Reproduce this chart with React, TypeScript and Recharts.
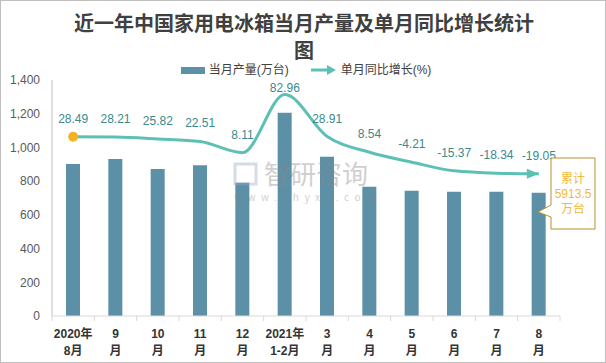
import React from "react";
import {
  ComposedChart,
  Bar,
  Line,
  XAxis,
  YAxis,
  LabelList,
} from "recharts";

const tickTop = ["2020年", "9", "10", "11", "12", "2021年", "3", "4", "5", "6", "7", "8"];
const tickBottom = ["8月", "月", "月", "月", "月", "1-2月", "月", "月", "月", "月", "月", "月"];
const output = [902, 931, 872, 895, 790, 1205, 945, 767, 743, 737, 737, 731];
const growth = [28.49, 28.21, 25.82, 22.51, 8.11, 82.96, 28.91, 8.54, -4.21, -15.37, -18.34, -19.05];
const yTicks = [0, 200, 400, 600, 800, 1000, 1200, 1400];

const data = tickTop.map((t, i) => ({
  name: i,
  output: output[i],
  growth: growth[i],
}));

const BAR = "#5b90a6";
const LINE = "#5cc0b5";
const FONT = "'Liberation Sans', 'Noto Sans CJK SC', sans-serif";

const XTick = (props: any) => {
  const { x, y, payload } = props;
  const i = payload.value;
  const half = 508 / 12 / 2;
  return (
    <g>
      <line x1={x - half} x2={x - half} y1={y - 8} y2={y - 3} stroke="#d9d9d9" />
      {i === tickTop.length - 1 && (
        <line x1={x + half} x2={x + half} y1={y - 8} y2={y - 3} stroke="#d9d9d9" />
      )}
      <text x={x} y={y + 14} textAnchor="middle" fontSize={12} fontWeight="bold" fill="#333" fontFamily={FONT}>
        {tickTop[i]}
      </text>
      <text x={x} y={y + 31} textAnchor="middle" fontSize={12} fontWeight="bold" fill="#333" fontFamily={FONT}>
        {tickBottom[i]}
      </text>
    </g>
  );
};

const LineDot = (props: any) => {
  const { cx, cy, index } = props;
  if (index === 0) {
    return <circle key="d0" cx={cx} cy={cy} r={5} fill="#f5b224" />;
  }
  if (index === growth.length - 1) {
    return (
      <path
        key="dl"
        d={`M${cx - 12},${cy - 5} L${cx},${cy} L${cx - 12},${cy + 5} Z`}
        fill={LINE}
      />
    );
  }
  return <g key={`d${index}`} />;
};

// labels sit above the points but stay inside the plot top
const GrowthLabel = (props: any) => {
  const { x, y, value } = props;
  return (
    <text
      x={x}
      y={Math.max(y - 14, 92)}
      textAnchor="middle"
      fill="#3a8a8e"
      fontSize={12}
      fontFamily={FONT}
    >
      {value}
    </text>
  );
};

export default function App() {
  return (
    <div
      style={{
        position: "relative",
        width: 606,
        height: 363,
        boxSizing: "border-box",
        border: "1px solid #bfbfbf",
        background: "#fff",
        overflow: "hidden",
      }}
    >
      <style>{`body{margin:0}`}</style>
      <div
        style={{
          position: "absolute",
          top: 8,
          left: 0,
          width: 606,
          textAlign: "center",
          fontSize: 20,
          lineHeight: "27px",
          fontWeight: "bold",
          color: "#404040",
          fontFamily: "'Noto Sans CJK SC', sans-serif",
        }}
      >
        近一年中国家用电冰箱当月产量及单月同比增长统计
        <br />图
      </div>
      <div
        style={{
          position: "absolute",
          top: 61,
          left: 0,
          width: 606,
          display: "flex",
          justifyContent: "center",
          alignItems: "center",
          fontSize: 12,
          lineHeight: "16px",
          color: "#404040",
          fontFamily: FONT,
          paddingLeft: 4,
          boxSizing: "border-box",
        }}
      >
        <span style={{ display: "inline-block", width: 24, height: 7, background: BAR, marginRight: 4 }} />
        <span style={{ marginRight: 22 }}>当月产量(万台)</span>
        <svg width={26} height={12} style={{ marginRight: 4 }}>
          <line x1={0} y1={6} x2={18} y2={6} stroke={LINE} strokeWidth={3} />
          <path d="M16,1 L25,6 L16,11 Z" fill={LINE} />
        </svg>
        <span>单月同比增长(%)</span>
      </div>
      <div style={{ position: "absolute", left: -1, top: -1 }}>
        <ComposedChart
          width={606}
          height={363}
          data={data}
          margin={{ top: 80, right: 46, bottom: 7, left: 0 }}
        >
          <XAxis
            dataKey="name"
            height={40}
            tick={<XTick />}
            tickLine={false}
            axisLine={{ stroke: "#d9d9d9" }}
            interval={0}
          />
          <YAxis
            yAxisId="left"
            width={52}
            domain={[0, 1400]}
            ticks={yTicks}
            tickFormatter={(v: number) => v.toLocaleString("en-US")}
            tickLine={false}
            tickSize={0}
            tickMargin={12}
            axisLine={{ stroke: "#bfbfbf" }}
            tick={{ fontSize: 12, fill: "#595959", fontFamily: FONT }}
          />
          <YAxis yAxisId="right" orientation="right" hide domain={[-202.6, 101.8]} />
          <Bar yAxisId="left" dataKey="output" fill={BAR} barSize={14} isAnimationActive={false} />
          <Line
            yAxisId="right"
            type="monotone"
            dataKey="growth"
            stroke={LINE}
            strokeWidth={3}
            dot={<LineDot />}
            activeDot={false}
            isAnimationActive={false}
          >
            <LabelList dataKey="growth" content={<GrowthLabel />} />
          </Line>
        </ComposedChart>
      </div>
      <svg
        width={606}
        height={363}
        style={{ position: "absolute", left: -1, top: -1, pointerEvents: "none" }}
      >
        <g opacity={0.4} fontFamily="'Noto Sans CJK SC', sans-serif">
          <rect x={235} y={164} width={21} height={20} fill="none" stroke="#9aa6c6" strokeWidth={3} />
          <text x={264} y={184} fontSize={26} fill="#8a8a8a">智研咨询</text>
          <text x={234} y={201} fontSize={10} fill="#8a8a8a" letterSpacing={5.5}>www.chyxx.com</text>
        </g>
        <path
          d="M551,158 L595,158 L595,229 L551,229 L551,217 L538,212 L551,205 Z"
          fill="#fff"
          stroke="#b8912f"
          strokeWidth={1}
        />
        <g fontFamily={FONT} fontSize={12} fill="#f0b93a" textAnchor="middle">
          <text x={573} y={183}>累计</text>
          <text x={573} y={198}>5913.5</text>
          <text x={573} y={213}>万台</text>
        </g>
      </svg>
    </div>
  );
}
